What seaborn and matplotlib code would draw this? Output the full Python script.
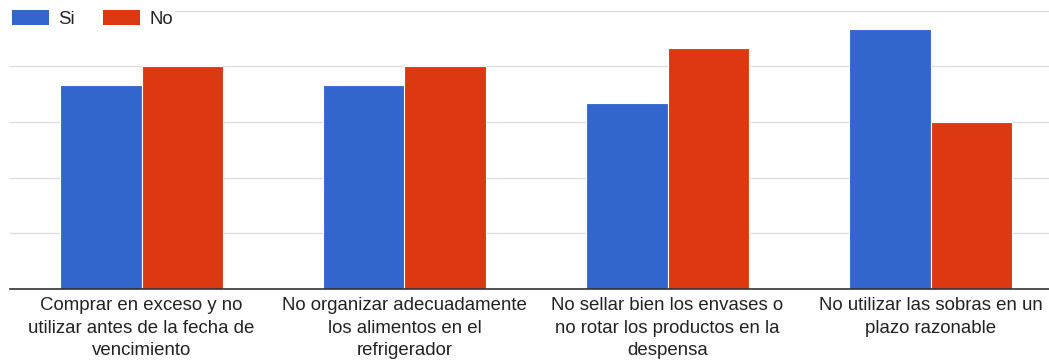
import matplotlib
matplotlib.use("Agg")
import matplotlib.pyplot as plt
import seaborn as sns
import pandas as pd

categories = [
    "Comprar en exceso y no\nutilizar antes de la fecha de\nvencimiento",
    "No organizar adecuadamente\nlos alimentos en el\nrefrigerador",
    "No sellar bien los envases o\nno rotar los productos en la\ndespensa",
    "No utilizar las sobras en un\nplazo razonable",
]
series_names = ["Si", "No"]
si_values = [11, 11, 10, 14]
no_values = [12, 12, 13, 9]
y_ticks = [0, 3, 6, 9, 12, 15]

colors = {"Si": "#3366CC", "No": "#DC3912"}

df = pd.DataFrame({
    "categoria": categories * 2,
    "respuesta": ["Si"] * len(categories) + ["No"] * len(categories),
    "valor": si_values + no_values,
})

sns.set_theme(style="white")
plt.rcParams["font.family"] = ["Liberation Sans", "DejaVu Sans"]

fig = plt.figure(figsize=(10.49, 3.6), dpi=100)
ax = fig.add_axes([10 / 1049, 71 / 360, 1 - 10 / 1049, (289 - 10.6) / 360])

sns.barplot(
    data=df, x="categoria", y="valor", hue="respuesta",
    hue_order=series_names, palette=colors, order=categories,
    width=0.616, dodge=True, gap=0, edgecolor="white", linewidth=0.8,
    saturation=1, ax=ax, legend=False,
)

ax.set_ylim(0, 15)
ax.set_xlim(-0.5, 3.5 - 13 / 263)
ax.set_yticks(y_ticks)
ax.yaxis.grid(True, color="#dddddd", linewidth=1)
ax.set_axisbelow(True)
ax.tick_params(axis="y", left=False, labelleft=False)
ax.tick_params(axis="x", bottom=False, pad=0, labelsize=13.4, labelcolor="#222222")
for lbl in ax.get_xticklabels():
    lbl.set_linespacing(1.42)
for side in ["left", "right", "top"]:
    ax.spines[side].set_visible(False)
ax.spines["bottom"].set_color("#333333")
ax.spines["bottom"].set_linewidth(1.2)
ax.set_xlabel("")
ax.set_ylabel("")

handles = [plt.Rectangle((0, 0), 1, 1, facecolor=colors[n], edgecolor="none") for n in series_names]
leg = fig.legend(
    handles, series_names, loc="center left",
    bbox_to_anchor=(10 / 1049, 1 - 19 / 360), ncol=2, frameon=True,
    fontsize=13.4, handlelength=2.0, handleheight=0.9, handletextpad=0.5,
    columnspacing=1.5, borderpad=0.1, borderaxespad=0,
)
leg.get_frame().set_facecolor("white")
leg.get_frame().set_edgecolor("none")
leg.get_frame().set_alpha(1)
for t in leg.get_texts():
    t.set_color("#222222")

fig.savefig("out.png", dpi=100)
